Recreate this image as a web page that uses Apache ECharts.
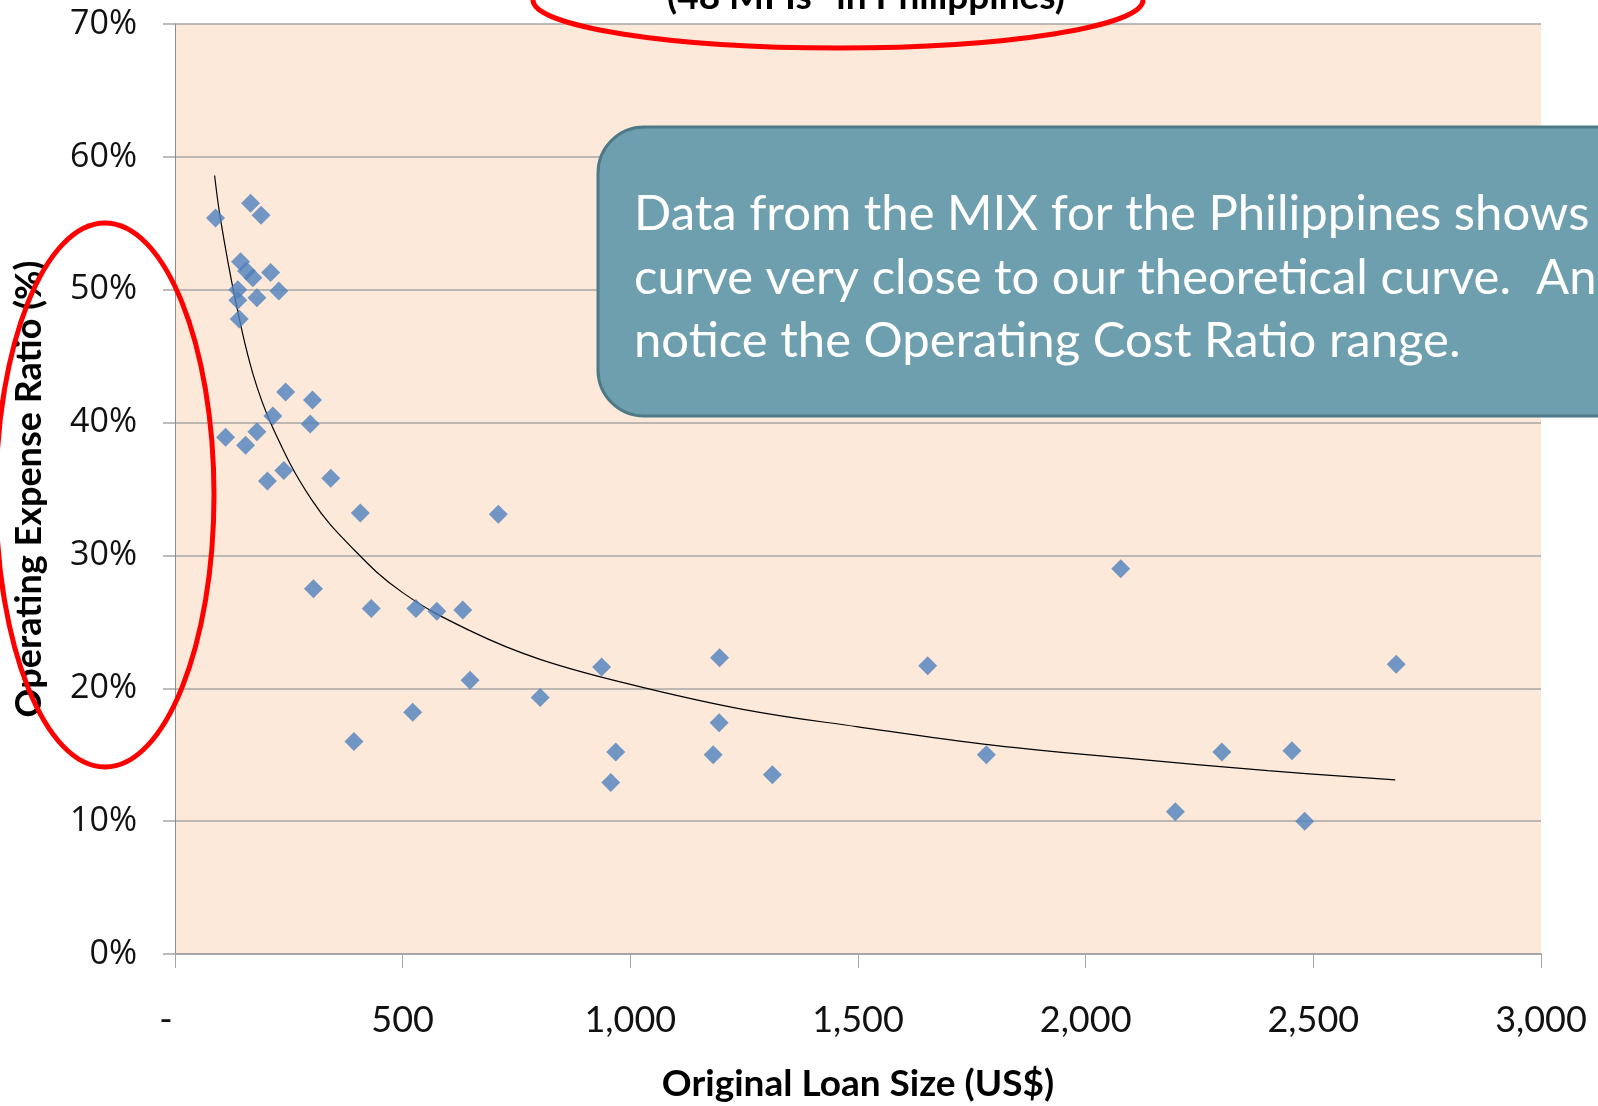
<!DOCTYPE html>
<html>
<head>
<meta charset="utf-8">
<script src="https://cdn.jsdelivr.net/npm/echarts@6/dist/echarts.min.js"></script>
<style>
    html, body { margin: 0; padding: 0; background: #fff; }
    #chart { width: 1598px; height: 1106px; }
</style>
</head>
<body>
<div id="chart"></div>
<script>
// loan size (US$) and operating expense ratio (%) per MFI
const loanSize = [
    89, 166, 189, 144, 157, 171, 210, 138, 138, 180, 228, 141,
    243, 302, 215, 297, 111, 155, 180, 239, 203, 342, 407, 710,
    304, 431, 529, 575, 632, 648, 937, 1196, 1653, 802, 522, 393,
    1195, 968, 1182, 957, 1312, 2077, 2682, 1782, 2299, 2453, 2197, 2481
]
const expenseRatio = [
    55.4, 56.5, 55.6, 52.1, 51.4, 50.9, 51.3, 50.0, 49.2, 49.4, 49.9, 47.8,
    42.3, 41.7, 40.5, 39.9, 38.9, 38.3, 39.3, 36.4, 35.6, 35.8, 33.2, 33.1,
    27.5, 26.0, 26.0, 25.8, 25.9, 20.6, 21.6, 22.3, 21.7, 19.3, 18.2, 16.0,
    17.4, 15.2, 15.0, 12.9, 13.5, 29.0, 21.8, 15.0, 15.2, 15.3, 10.7, 10.0
]
// points picked along the drawn trend curve
const trendLoan = [87, 100, 131, 170, 215, 300, 391, 500, 650, 800, 1000, 1250, 1500, 1800, 2100, 2400, 2680]
const trendRatio = [58.6, 55.3, 49.5, 43.8, 39.6, 34.2, 30.5, 27.2, 24.3, 22.2, 20.3, 18.4, 17.1, 15.7, 14.7, 13.8, 13.1]

const xTickLabels = ['-', '500', '1,000', '1,500', '2,000', '2,500', '3,000']
const yTickLabels = ['0%', '10%', '20%', '30%', '40%', '50%', '60%', '70%']

const calloutLines = [
    'Data from the MIX for the Philippines shows',
    'curve very close to our theoretical curve.  An',
    'notice the Operating Cost Ratio range.'
]

const chart = echarts.init(document.getElementById('chart'))

chart.setOption({
    animation: false,
    grid: {
        left: 175,
        right: 57,
        top: 24,
        bottom: 152,
        outerBoundsMode: 'none',
        show: true,
        backgroundColor: '#fde9d9',
        borderWidth: 0
    },
    xAxis: {
        type: 'value',
        min: 0,
        max: 3000,
        interval: 500,
        name: 'Original Loan Size (US$)',
        nameLocation: 'middle',
        nameGap: 112,
        nameTextStyle: { fontFamily: 'Lato', fontWeight: 'bold', fontSize: 37, color: '#000' },
        axisLine: { show: true, lineStyle: { color: '#a6a6a6', width: 2 } },
        axisTick: { show: true, length: 14, lineStyle: { color: '#a6a6a6', width: 1 } },
        axisLabel: {
            margin: 48,
            fontFamily: 'Lato',
            fontSize: 36,
            color: '#111',
            formatter: v => {
                const i = Math.round(v / 500)
                return i === 0 ? '{dash|' + xTickLabels[0] + '}' : xTickLabels[i]
            },
            rich: {
                dash: { fontFamily: 'Lato', fontSize: 36, color: '#111', padding: [0, 18, 0, 0] }
            }
        },
        splitLine: { show: false }
    },
    yAxis: {
        type: 'value',
        min: 0,
        max: 70,
        interval: 10,
        name: 'Operating Expense Ratio (%)',
        nameLocation: 'middle',
        nameRotate: 90,
        nameGap: 128,
        nameTextStyle: { fontFamily: 'Lato', fontWeight: 'bold', fontSize: 36, color: '#000' },
        axisLine: { show: true, lineStyle: { color: '#8c8c8c', width: 1 } },
        axisTick: { show: true, length: 12, lineStyle: { color: '#a6a6a6', width: 1.5 } },
        axisLabel: {
            margin: 38,
            fontFamily: 'Open Sans',
            fontSize: 34,
            color: '#111',
            formatter: v => yTickLabels[Math.round(v / 10)]
        },
        splitLine: { show: true, lineStyle: { color: '#a6a6a6', width: 1.5 } }
    },
    series: [
        {
            type: 'line',
            data: trendLoan.map((x, i) => [x, trendRatio[i]]),
            smooth: 0.4,
            showSymbol: false,
            lineStyle: { color: '#000', width: 1.2 },
            z: 2
        },
        {
            type: 'scatter',
            data: loanSize.map((x, i) => [x, expenseRatio[i]]),
            symbol: 'diamond',
            symbolSize: 19,
            itemStyle: { color: '#4f81bd' },
            z: 3
        }
    ],
    graphic: [
        {
            type: 'text',
            x: 866,
            y: -3,
            style: {
                text: '(48 MFIs* in Philippines)',
                font: 'bold 37px Lato',
                fill: '#000',
                align: 'center',
                verticalAlign: 'middle'
            },
            z: 50
        },
        {
            type: 'rect',
            shape: { x: 598, y: 127, width: 1100, height: 289, r: 46 },
            style: { fill: '#6e9fae', stroke: '#4e7a88', lineWidth: 3 },
            z: 60
        },
        {
            type: 'text',
            x: 634,
            y: 278,
            style: {
                text: calloutLines.join('\n'),
                font: '49px Lato',
                fill: '#fff',
                lineHeight: 63.5,
                align: 'left',
                verticalAlign: 'middle'
            },
            z: 61
        },
        {
            type: 'ellipse',
            shape: { cx: 838, cy: 0, rx: 305, ry: 48 },
            style: { fill: 'none', stroke: '#ff0000', lineWidth: 5 },
            z: 70
        },
        {
            type: 'ellipse',
            shape: { cx: 105, cy: 495, rx: 109, ry: 272 },
            style: { fill: 'none', stroke: '#ff0000', lineWidth: 5 },
            z: 70
        }
    ]
})
</script>
</body>
</html>
